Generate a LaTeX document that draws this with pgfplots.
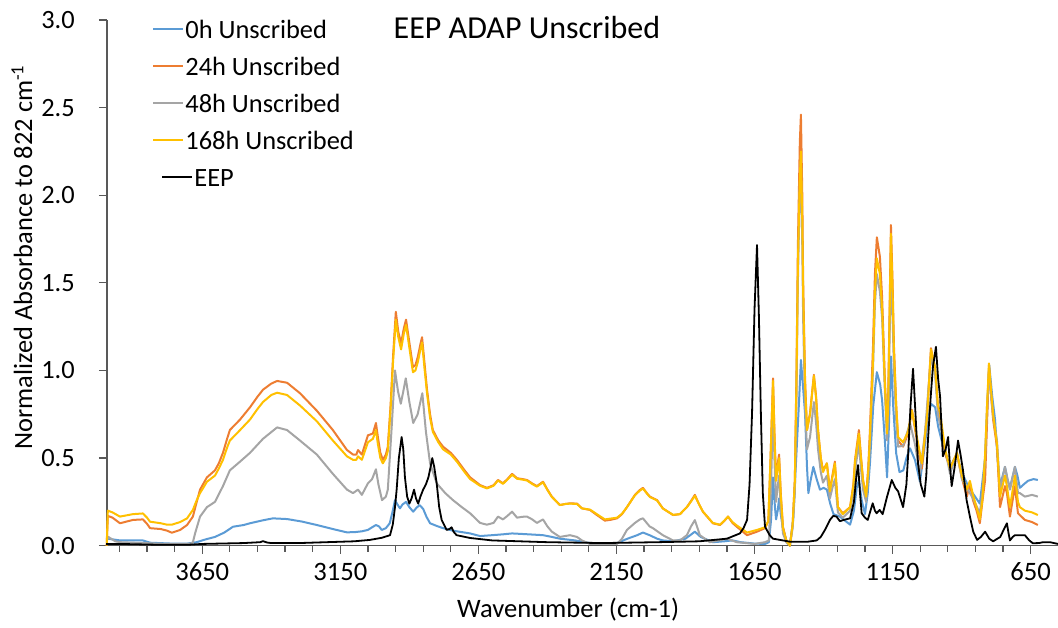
\documentclass[border=0pt]{standalone}
\usepackage{fontspec}
\setmainfont{Carlito}
\usepackage{pgfplots}
\pgfplotsset{compat=1.18}
\definecolor{sZero}{HTML}{5B9BD5}
\definecolor{sTwentyFour}{HTML}{ED7D31}
\definecolor{sFortyEight}{HTML}{A5A5A5}
\definecolor{sOneSixtyEight}{HTML}{FFC000}
\definecolor{axisgray}{HTML}{595959}
\pgfplotsset{
  shortline/.style={legend image code/.code={\draw[##1] (0pt,0pt) -- (15pt,0pt);}},
  shiftedline/.style={legend image code/.code={\path (0pt,0pt) (15pt,0pt); \draw[##1, overlay] (4.5pt,0pt) -- (19.5pt,0pt);}},
}
\begin{document}
\fontsize{13.2}{15}\selectfont
\begin{tikzpicture}
\begin{axis}[
  name=spec,
  scale only axis, width=475.5pt, height=262.85pt,
  x dir=reverse, xmin=551, xmax=3995, ymin=0, ymax=3,
  clip=false,
  axis x line=bottom, axis y line=left,
  axis line style={-, axisgray, line width=0.6pt},
  xtick={650,1150,...,3650}, minor xtick={650,750,...,3950},
  ytick={0,0.5,...,3},
  tick align=outside, major tick length=4pt, minor tick length=3pt,
  every tick/.style={axisgray, line width=0.6pt},
  /pgf/number format/assume math mode=true,
  yticklabel style={/pgf/number format/.cd, fixed, fixed zerofill, precision=1, /tikz/.cd,
    font=\fontsize{13.2}{15}\selectfont, xshift=-7.5pt},
  xticklabel style={/pgf/number format/1000 sep={}, font=\fontsize{13.3}{15}\selectfont},
  every axis title shift=0pt,
  title={EEP ADAP Unscribed},
  title style={at={(axis description cs:0.4416,0.985)}, anchor=center, font=\fontsize{16}{18}\selectfont},
  xlabel={Wavenumber (cm-1)},
  xlabel style={at={(axis description cs:0.485,-0.122)}, anchor=center, font=\fontsize{13.3}{15}\selectfont},
  ylabel={Normalized Absorbance to 822 cm\textsuperscript{-1}},
  ylabel style={at={(axis description cs:-0.0894,0.549)}, anchor=center, font=\fontsize{13.2}{15}\selectfont},
  legend style={at={(axis description cs:0.0473,1.0)}, anchor=north west,
    draw=none, fill=none, inner sep=0pt, row sep=9.5pt,
    nodes={inner sep=0pt, text height=9pt, text depth=0pt},
    /tikz/every odd column/.append style={column sep=0.5pt},
    font=\fontsize{13.2}{15}\selectfont},
  legend cell align=left,
  shortline,
  every axis plot/.append style={line width=1pt, line join=round},
]
% 0 h
\addplot[sZero] coordinates {
(3995,0.04)(3970,0.035)(3948,0.03)(3900,0.03)(3865,0.03)(3839,0.017)(3760,0.012)(3705,0.012)
(3670,0.02)(3640,0.035)(3604,0.05)(3570,0.075)(3539,0.108)(3500,0.118)(3477,0.128)(3430,0.145)
(3394,0.156)(3343,0.152)(3290,0.138)(3235,0.118)(3177,0.095)(3126,0.076)(3095,0.078)(3072,0.082)
(3050,0.09)(3035,0.105)(3021,0.118)(3010,0.11)(3000,0.09)(2985,0.1)(2971,0.128)(2960,0.2)
(2952,0.26)(2943,0.235)(2934,0.213)(2925,0.235)(2912,0.25)(2900,0.22)(2886,0.194)(2875,0.215)
(2863,0.232)(2850,0.21)(2838,0.165)(2825,0.128)(2800,0.112)(2778,0.10)(2740,0.085)(2680,0.07)
(2644,0.055)(2600,0.06)(2560,0.065)(2528,0.07)(2470,0.065)(2416,0.06)(2384,0.05)(2355,0.04)
(2300,0.03)(2246,0.015)(2190,0.015)(2148,0.015)(2110,0.04)(2075,0.06)(2054,0.075)(2030,0.06)
(2003,0.04)(1982,0.03)(1945,0.025)(1900,0.04)(1866,0.08)(1845,0.05)(1801,0.02)(1760,0.025)
(1730,0.03)(1700,0.02)(1650,0.012)(1612,0.01)(1598,0.02)(1590,0.15)(1583,0.39)(1576,0.22)
(1572,0.15)(1566,0.2)(1561,0.27)(1555,0.18)(1547,0.10)(1535,0.03)(1522,0.0)(1510,0.15)
(1500,0.47)(1488,0.85)(1482,1.06)(1474,0.9)(1467,0.755)(1460,0.45)(1455,0.30)(1446,0.38)
(1437,0.45)(1425,0.38)(1413,0.32)(1400,0.33)(1388,0.32)(1376,0.24)(1364,0.18)(1341,0.166)
(1320,0.14)(1304,0.12)(1290,0.2)(1280,0.33)(1272,0.375)(1262,0.26)(1250,0.18)(1240,0.3)
(1232,0.47)(1220,0.8)(1207,0.99)(1195,0.92)(1188,0.83)(1178,0.6)(1170,0.39)(1163,0.7)
(1156,1.08)(1148,0.8)(1137,0.527)(1125,0.42)(1111,0.43)(1100,0.5)(1087,0.556)(1069,0.49)
(1051,0.365)(1035,0.55)(1021,0.736)(1011,0.81)(996,0.79)(985,0.68)(966,0.56)(942,0.45)
(918,0.52)(900,0.42)(881,0.356)(860,0.3)(834,0.24)(815,0.5)(800,1.03)(789,0.85)
(779,0.72)(770,0.5)(761,0.34)(743,0.45)(734,0.38)(725,0.33)(707,0.45)(698,0.4)
(689,0.33)(675,0.35)(660,0.37)(640,0.38)(624,0.375)
};
\addlegendentry{0h Unscribed}
% 24 h
\addplot[sTwentyFour] coordinates {
(3996,0.00)(3992,0.17)(3975,0.16)(3948,0.128)(3901,0.147)(3865,0.15)(3850,0.125)(3839,0.10)
(3800,0.095)(3778,0.086)(3760,0.074)(3730,0.09)(3705,0.118)(3684,0.166)(3670,0.25)(3658,0.32)
(3633,0.39)(3604,0.43)(3590,0.47)(3575,0.53)(3560,0.61)(3550,0.66)(3513,0.72)(3477,0.79)
(3450,0.85)(3430,0.89)(3400,0.925)(3379,0.94)(3343,0.93)(3296,0.87)(3235,0.77)(3177,0.66)
(3126,0.546)(3104,0.52)(3092,0.52)(3086,0.546)(3072,0.52)(3050,0.63)(3032,0.64)(3021,0.70)
(3014,0.62)(3005,0.53)(2996,0.49)(2985,0.52)(2978,0.565)(2968,0.8)(2959,1.08)(2949,1.335)
(2940,1.22)(2930,1.155)(2920,1.24)(2912,1.29)(2900,1.16)(2887,1.02)(2878,1.03)(2869,1.08)
(2860,1.15)(2854,1.19)(2845,1.04)(2836,0.89)(2825,0.75)(2815,0.66)(2795,0.6)(2778,0.565)
(2750,0.53)(2728,0.49)(2700,0.43)(2680,0.39)(2644,0.346)(2619,0.33)(2595,0.345)(2579,0.375)
(2561,0.356)(2545,0.38)(2528,0.41)(2510,0.385)(2490,0.38)(2474,0.375)(2455,0.355)(2438,0.34)
(2416,0.365)(2400,0.32)(2384,0.28)(2355,0.232)(2335,0.238)(2318,0.242)(2293,0.24)(2275,0.213)
(2246,0.204)(2221,0.175)(2192,0.143)(2170,0.148)(2148,0.156)(2130,0.18)(2112,0.22)(2083,0.29)
(2065,0.318)(2054,0.33)(2040,0.30)(2029,0.28)(2003,0.26)(1982,0.213)(1945,0.175)(1920,0.18)
(1895,0.22)(1880,0.255)(1866,0.29)(1852,0.24)(1837,0.194)(1801,0.128)(1775,0.118)(1760,0.14)
(1746,0.166)(1730,0.13)(1714,0.108)(1677,0.06)(1641,0.08)(1612,0.10)(1600,0.14)(1592,0.5)
(1583,0.955)(1577,0.6)(1572,0.375)(1566,0.47)(1561,0.52)(1555,0.3)(1547,0.108)(1535,0.03)
(1522,0.0)(1512,0.12)(1504,0.375)(1498,1.0)(1493,1.71)(1486,2.3)(1482,2.46)(1477,2.0)
(1474,1.52)(1467,0.95)(1460,0.66)(1449,0.755)(1435,0.975)(1427,0.85)(1420,0.66)(1410,0.5)
(1402,0.43)(1388,0.47)(1377,0.318)(1368,0.4)(1359,0.48)(1348,0.22)(1330,0.185)(1304,0.22)
(1292,0.35)(1286,0.49)(1272,0.66)(1264,0.5)(1257,0.375)(1246,0.28)(1238,0.45)(1232,0.66)
(1221,1.135)(1214,1.55)(1207,1.76)(1196,1.65)(1188,1.42)(1178,0.95)(1170,0.66)(1166,0.85)
(1163,1.135)(1156,1.83)(1150,1.5)(1145,1.135)(1137,0.8)(1130,0.60)(1112,0.565)(1094,0.64)
(1080,0.775)(1062,0.60)(1044,0.44)(1025,0.755)(1011,1.127)(996,1.003)(986,0.80)(978,0.736)
(960,0.527)(942,0.44)(917,0.527)(899,0.385)(881,0.28)(870,0.356)(859,0.26)(846,0.2)
(834,0.128)(825,0.25)(815,0.375)(808,0.7)(801,1.03)(793,0.85)(786,0.72)(772,0.565)
(761,0.22)(743,0.34)(736,0.30)(725,0.166)(707,0.34)(696,0.185)(671,0.147)(645,0.135)(624,0.118)
};
\addlegendentry{24h Unscribed}
% 48 h
\addplot[sFortyEight] coordinates {
(3995,0.03)(3990,0.05)(3980,0.04)(3965,0.025)(3948,0.02)(3865,0.015)(3778,0.01)(3705,0.01)
(3690,0.012)(3684,0.02)(3676,0.07)(3658,0.166)(3633,0.22)(3604,0.25)(3575,0.34)(3550,0.43)
(3513,0.48)(3477,0.53)(3430,0.61)(3379,0.675)(3343,0.66)(3296,0.60)(3235,0.52)(3177,0.41)
(3126,0.32)(3104,0.30)(3086,0.32)(3072,0.29)(3050,0.356)(3035,0.38)(3021,0.436)(3012,0.35)
(2999,0.26)(2985,0.28)(2978,0.32)(2965,0.65)(2952,1.0)(2941,0.88)(2931,0.81)(2922,0.88)
(2913,0.955)(2900,0.82)(2886,0.70)(2870,0.75)(2853,0.87)(2840,0.65)(2825,0.47)(2801,0.356)
(2770,0.3)(2742,0.26)(2710,0.22)(2680,0.185)(2644,0.13)(2619,0.12)(2595,0.13)(2579,0.166)
(2561,0.15)(2545,0.17)(2528,0.194)(2510,0.16)(2490,0.165)(2474,0.166)(2455,0.15)(2438,0.13)
(2416,0.15)(2400,0.11)(2384,0.08)(2355,0.05)(2318,0.06)(2293,0.05)(2275,0.03)(2246,0.01)
(2148,0.01)(2130,0.04)(2112,0.09)(2083,0.13)(2065,0.15)(2054,0.156)(2030,0.11)(2018,0.10)
(1982,0.06)(1945,0.03)(1920,0.03)(1895,0.06)(1880,0.11)(1866,0.146)(1848,0.06)(1812,0.02)
(1780,0.03)(1750,0.04)(1714,0.02)(1650,0.01)(1612,0.02)(1598,0.03)(1590,0.35)(1583,0.78)
(1577,0.45)(1572,0.25)(1566,0.34)(1561,0.40)(1555,0.22)(1547,0.07)(1535,0.02)(1522,0.0)
(1512,0.1)(1504,0.3)(1498,0.85)(1493,1.5)(1486,2.05)(1482,2.2)(1477,1.7)(1474,1.3)
(1467,0.8)(1460,0.55)(1449,0.62)(1435,0.82)(1427,0.7)(1420,0.55)(1410,0.42)(1402,0.36)
(1388,0.40)(1377,0.27)(1368,0.33)(1359,0.38)(1348,0.19)(1330,0.16)(1304,0.2)(1292,0.3)
(1286,0.43)(1272,0.58)(1264,0.43)(1257,0.32)(1246,0.25)(1238,0.4)(1232,0.58)(1221,1.0)
(1214,1.38)(1207,1.55)(1196,1.45)(1188,1.3)(1178,0.88)(1170,0.6)(1166,0.75)(1163,1.0)
(1156,1.6)(1150,1.3)(1145,1.0)(1137,0.72)(1130,0.565)(1112,0.57)(1087,0.70)(1069,0.58)
(1051,0.41)(1033,0.64)(1011,1.08)(996,0.98)(986,0.75)(968,0.62)(942,0.41)(917,0.53)
(899,0.38)(881,0.33)(859,0.27)(834,0.185)(825,0.3)(815,0.5)(808,0.8)(801,1.0)
(793,0.85)(786,0.74)(772,0.6)(761,0.318)(743,0.45)(734,0.38)(725,0.32)(707,0.45)
(696,0.30)(689,0.3)(671,0.28)(645,0.29)(624,0.28)
};
\addlegendentry{48h Unscribed}
% 168 h
\addplot[sOneSixtyEight] coordinates {
(3996,0.00)(3992,0.20)(3975,0.19)(3948,0.166)(3901,0.18)(3865,0.184)(3850,0.16)(3839,0.137)
(3800,0.128)(3778,0.12)(3760,0.12)(3730,0.135)(3705,0.156)(3684,0.204)(3670,0.26)(3658,0.30)
(3633,0.365)(3604,0.40)(3590,0.44)(3575,0.49)(3560,0.56)(3550,0.60)(3513,0.66)(3477,0.72)
(3450,0.78)(3430,0.82)(3400,0.86)(3379,0.873)(3343,0.86)(3296,0.80)(3235,0.71)(3177,0.60)
(3126,0.51)(3104,0.49)(3092,0.49)(3086,0.51)(3072,0.49)(3050,0.59)(3032,0.61)(3021,0.66)
(3014,0.58)(3005,0.50)(2996,0.47)(2985,0.50)(2978,0.54)(2968,0.78)(2959,1.05)(2949,1.29)
(2940,1.19)(2930,1.12)(2920,1.21)(2912,1.26)(2900,1.13)(2887,0.99)(2878,1.0)(2869,1.05)
(2860,1.12)(2854,1.16)(2845,1.01)(2836,0.87)(2825,0.73)(2815,0.65)(2795,0.59)(2778,0.55)
(2750,0.52)(2728,0.48)(2700,0.42)(2680,0.38)(2644,0.342)(2619,0.327)(2595,0.342)(2579,0.372)
(2561,0.353)(2545,0.377)(2528,0.405)(2510,0.382)(2490,0.377)(2474,0.372)(2455,0.352)(2438,0.337)
(2416,0.362)(2400,0.318)(2384,0.278)(2355,0.232)(2335,0.238)(2318,0.24)(2293,0.238)(2275,0.213)
(2246,0.206)(2221,0.18)(2192,0.15)(2170,0.155)(2148,0.16)(2130,0.182)(2112,0.22)(2083,0.288)
(2065,0.315)(2054,0.326)(2040,0.298)(2029,0.278)(2003,0.258)(1982,0.212)(1945,0.176)(1920,0.18)
(1895,0.22)(1880,0.252)(1866,0.285)(1852,0.24)(1837,0.195)(1801,0.13)(1775,0.12)(1760,0.142)
(1746,0.166)(1730,0.135)(1714,0.115)(1677,0.075)(1641,0.09)(1612,0.105)(1600,0.14)(1592,0.5)
(1583,0.94)(1577,0.58)(1572,0.37)(1566,0.45)(1561,0.50)(1555,0.29)(1547,0.10)(1535,0.03)
(1522,0.0)(1512,0.12)(1504,0.37)(1498,0.95)(1493,1.6)(1486,2.1)(1482,2.25)(1477,1.85)
(1474,1.45)(1467,0.92)(1460,0.66)(1449,0.75)(1435,0.97)(1427,0.84)(1420,0.66)(1410,0.5)
(1402,0.42)(1388,0.47)(1377,0.31)(1368,0.39)(1359,0.47)(1348,0.22)(1330,0.18)(1304,0.22)
(1292,0.34)(1286,0.48)(1272,0.64)(1264,0.49)(1257,0.37)(1246,0.28)(1238,0.43)(1232,0.62)
(1221,1.05)(1214,1.45)(1207,1.64)(1196,1.55)(1188,1.35)(1178,0.92)(1170,0.64)(1166,0.8)
(1163,1.1)(1156,1.78)(1150,1.45)(1145,1.1)(1137,0.8)(1130,0.62)(1112,0.59)(1094,0.65)
(1080,0.77)(1062,0.62)(1044,0.47)(1025,0.74)(1011,1.12)(996,1.02)(986,0.80)(978,0.76)
(960,0.55)(942,0.44)(917,0.53)(899,0.40)(881,0.32)(870,0.37)(859,0.29)(846,0.22)
(834,0.15)(825,0.26)(815,0.52)(808,0.8)(801,1.04)(793,0.88)(786,0.75)(772,0.58)
(761,0.28)(743,0.40)(736,0.34)(725,0.22)(707,0.40)(696,0.25)(689,0.22)(671,0.20)(645,0.19)(624,0.175)
};
\addlegendentry{168h Unscribed}
% EEP reference spectrum
\addplot[black, line width=0.9pt, shiftedline] coordinates {
(3998,0.01)(3948,0.01)(3800,0.005)(3705,0.005)(3650,0.01)(3500,0.015)(3440,0.02)(3430,0.026)
(3415,0.018)(3400,0.015)(3300,0.015)(3200,0.02)(3100,0.025)(3043,0.033)(3000,0.045)(2970,0.06)
(2960,0.12)(2952,0.22)(2946,0.32)(2938,0.5)(2928,0.62)(2922,0.55)(2916,0.39)(2908,0.28)
(2900,0.24)(2892,0.27)(2883,0.32)(2876,0.27)(2868,0.24)(2860,0.28)(2850,0.32)(2840,0.35)
(2831,0.39)(2823,0.45)(2817,0.50)(2810,0.45)(2801,0.356)(2792,0.22)(2783,0.147)(2765,0.09)
(2755,0.095)(2747,0.105)(2740,0.08)(2729,0.06)(2680,0.044)(2600,0.03)(2400,0.02)(2200,0.015)
(2000,0.02)(1850,0.025)(1750,0.04)(1703,0.07)(1690,0.1)(1677,0.147)(1668,0.35)(1659,0.755)
(1650,1.35)(1641,1.716)(1634,1.3)(1627,0.755)(1620,0.3)(1612,0.108)(1595,0.06)(1583,0.04)
(1522,0.023)(1460,0.022)(1425,0.03)(1410,0.05)(1395,0.09)(1377,0.147)(1365,0.17)(1353,0.166)
(1341,0.14)(1320,0.15)(1304,0.156)(1290,0.25)(1281,0.4)(1275,0.46)(1268,0.3)(1262,0.185)
(1250,0.16)(1240,0.147)(1230,0.2)(1222,0.242)(1214,0.2)(1208,0.185)(1197,0.204)(1186,0.18)
(1170,0.28)(1153,0.375)(1140,0.33)(1130,0.31)(1120,0.26)(1112,0.22)(1100,0.35)(1094,0.51)
(1085,0.8)(1076,1.01)(1067,0.75)(1058,0.47)(1048,0.35)(1035,0.28)(1028,0.4)(1022,0.60)
(1012,0.85)(1004,1.02)(993,1.135)(985,0.95)(978,0.85)(968,0.51)(958,0.55)(949,0.62)
(942,0.45)(936,0.34)(925,0.45)(913,0.60)(904,0.52)(895,0.43)(882,0.26)(870,0.166)
(858,0.08)(844,0.033)(830,0.05)(815,0.08)(800,0.04)(786,0.025)(760,0.05)(745,0.1)
(736,0.128)(730,0.07)(725,0.03)(715,0.05)(707,0.06)(690,0.06)(671,0.06)(655,0.03)
(642,0.014)(620,0.015)(605,0.02)(580,0.02)(551,0.01)
};
\addlegendentry{\hspace{4.5pt}EEP}
\end{axis}
\pgfresetboundingbox
\path[use as bounding box] ([shift={(-53.5pt,-41.15pt)}]spec.south west) rectangle ([shift={(0pt,10pt)}]spec.north east);
\end{tikzpicture}
\end{document}
